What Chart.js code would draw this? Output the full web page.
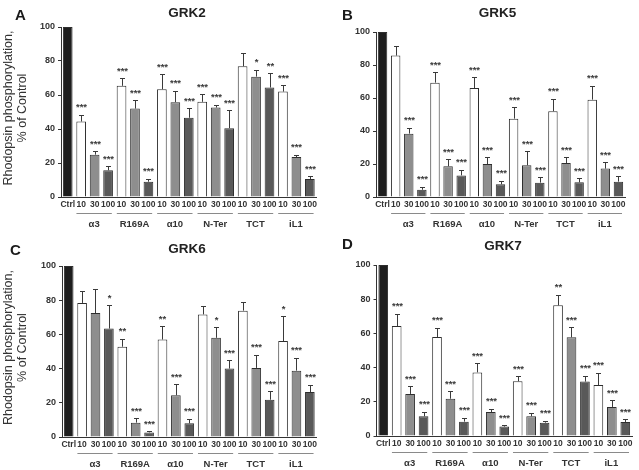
<!DOCTYPE html>
<html>
<head>
<meta charset="utf-8">
<script src="https://cdn.jsdelivr.net/npm/chart.js@4"></script>
<style>
  html,body{margin:0;padding:0;background:#fff;}
  body{width:639px;height:470px;position:relative;overflow:hidden;}
  .panel{position:absolute;}
  canvas{display:block;}
</style>
</head>
<body>
<div class="panel" style="left:0;top:0;width:320px;height:232px"><canvas id="cA" width="320" height="232"></canvas></div>
<div class="panel" style="left:320px;top:0;width:319px;height:232px"><canvas id="cB" width="319" height="232"></canvas></div>
<div class="panel" style="left:0;top:232px;width:320px;height:238px"><canvas id="cC" width="320" height="238"></canvas></div>
<div class="panel" style="left:320px;top:232px;width:319px;height:238px"><canvas id="cD" width="319" height="238"></canvas></div>
<script>
// ---------- DATA ----------
const categories = ['Ctrl', '10','30','100', '10','30','100', '10','30','100', '10','30','100', '10','30','100', '10','30','100'];
const groups = ['α3', 'R169A', 'α10', 'N-Ter', 'TCT', 'iL1'];
const yTicks = [0, 20, 40, 60, 80, 100];
const yLabel = ['Rhodopsin phosphorylation,', '% of Control'];

// GRK2 (panel A)
const grk2Values = [100, 44.4,24.9,15.7, 65.4,52,9, 63.4,55.8,46.6, 56,52.6,40.5, 76.9,70.8,64.4, 62,23.5,10.6];
const grk2ErrTop = [null, 48.3,26.8,18, 69.9,57,10.8, 72.2,62.4,52.3, 60.5,54.2,51, 84.5,74.8,72.8, 65.6,24.9,12.1];
const grk2Stars  = ['', '***','***','***', '***','***','***', '***','***','***', '***','***','***', '','*','**', '***','***','***'];

// GRK5 (panel B)
const grk5Values = [100, 85.7,38.4,4.4, 69.3,18.6,13.1, 66,20,7.7, 47.5,19.2,8.7, 52,20.6,8.9, 59,17.2,9.3];
const grk5ErrTop = [null, 91.3,42,6.3, 75.6,23,16.4, 72.5,24,10, 54.5,27.7,12, 59.4,24,11.3, 67.3,21,12.5];
const grk5Stars  = ['', '','***','***', '***','***','***', '***','***','***', '***','***','***', '***','***','***', '***','***','***'];

// GRK6 (panel C)
const grk6Values = [100, 78.4,72.5,63.4, 52.8,8.4,2.7, 57,24.4,8, 71.7,58,40, 73.9,40.4,21.8, 56.1,38.8,26.3];
const grk6ErrTop = [null, 85.4,86.7,77, 57.5,11.1,3.5, 64.7,30.8,10.7, 76.8,64.3,44.8, 79,48.1,26.7, 70.6,46.4,30.6];
const grk6Stars  = ['', '','','*', '**','***','***', '**','***','***', '','*','***', '','***','***', '*','***','***'];

// GRK7 (panel D)
const grk7Values = [100, 64.3,24.6,11.5, 57.9,21.8,8.4, 37.2,14,5.5, 32,11.5,7.8, 76.4,57.7,31.8, 29.8,17,8.2];
const grk7ErrTop = [null, 71.5,29,14.2, 63.4,26.3,10.7, 42.5,16,6.2, 34.9,13.6,8.8, 82.7,63.5,35.3, 37,20.9,9.9];
const grk7Stars  = ['', '***','***','***', '***','***','***', '***','***','***', '***','***','***', '**','***','***', '***','***','***'];

// ---------- STYLE ----------
const FONT = '"Liberation Sans", Arial, sans-serif';
const barFill = i => i === 0 ? '#1e1e1e' : ['#ffffff', '#8e8e8e', '#595959'][(i - 1) % 3];

const overlay = {
  id: 'overlay',
  afterDatasetsDraw(chart, args, o) {
    const ctx = chart.ctx, x = chart.scales.x, y = chart.scales.y;
    ctx.save();
    ctx.strokeStyle = '#3a3a3a';
    ctx.lineWidth = 1;
    ctx.fillStyle = '#3a3a3a';
    ctx.font = 'bold 9.5px ' + FONT;
    ctx.textAlign = 'center';
    ctx.textBaseline = 'alphabetic';
    o.errTop.forEach((e, i) => {
      const px = Math.round(x.getPixelForValue(i)) + 0.5;
      const yv = y.getPixelForValue(o.values[i]);
      if (e != null) {
        const ye = Math.round(y.getPixelForValue(e)) + 0.5;
        ctx.beginPath();
        ctx.moveTo(px, yv); ctx.lineTo(px, ye);
        ctx.moveTo(px - 2.5, ye); ctx.lineTo(px + 2.5, ye);
        ctx.stroke();
      }
      if (o.stars[i]) {
        const top = y.getPixelForValue(e != null ? e : o.values[i]);
        ctx.fillText(o.stars[i], px, top - 4.5);
      }
    });
    ctx.restore();
  },
  afterDraw(chart, args, o) {
    const ctx = chart.ctx, x = chart.scales.x, area = chart.chartArea;
    const step = x.getPixelForValue(1) - x.getPixelForValue(0);
    ctx.save();
    // group lines and labels
    groups.forEach((g, k) => {
      const a = x.getPixelForValue(1 + 3 * k) - step / 2 + 2;
      const b = x.getPixelForValue(3 + 3 * k) + step / 2 - 3;
      const ly = Math.round(area.bottom + 16) + 0.5;
      ctx.strokeStyle = '#8a8a8a';
      ctx.lineWidth = 1;
      ctx.beginPath(); ctx.moveTo(a, ly); ctx.lineTo(b, ly); ctx.stroke();
      ctx.fillStyle = '#333';
      ctx.font = 'bold 9.5px ' + FONT;
      ctx.textAlign = 'center';
      ctx.textBaseline = 'middle';
      ctx.fillText(g, (a + b) / 2, area.bottom + 27);
    });
    // letter and title
    ctx.fillStyle = '#1a1a1a';
    ctx.textAlign = 'center';
    ctx.textBaseline = 'middle';
    ctx.font = 'bold 15px ' + FONT;
    ctx.fillText(o.letter, o.letterPos[0], o.letterPos[1]);
    ctx.font = 'bold 13.5px ' + FONT;
    ctx.fillStyle = '#222';
    ctx.fillText(o.title, o.titlePos[0], o.titlePos[1]);
    // y label
    if (o.showYLabel) {
      ctx.font = '12.5px ' + FONT;
      ctx.fillStyle = '#333';
      const cy = (area.top + area.bottom) / 2 - 4;
      [[9, yLabel[0]], [23, yLabel[1]]].forEach(([lx, t]) => {
        ctx.save();
        ctx.translate(lx, cy);
        ctx.rotate(-Math.PI / 2);
        ctx.fillText(t, 0, 0);
        ctx.restore();
      });
    }
    ctx.restore();
  }
};

function makePanel(id, values, errTop, stars, title, letter, letterPos, titlePos, pad, yW, xH, showYLabel) {
  new Chart(document.getElementById(id), {
    type: 'bar',
    data: {
      labels: categories,
      datasets: [{
        data: values,
        backgroundColor: values.map((v, i) => barFill(i)),
        borderColor: '#2e2e2e',
        borderWidth: 1,
        barPercentage: 0.72,
        categoryPercentage: 1.0
      }]
    },
    options: {
      responsive: false,
      animation: false,
      devicePixelRatio: 1,
      layout: { padding: pad },
      plugins: {
        legend: { display: false },
        title: { display: false },
        tooltip: { enabled: false },
        overlay: { values, errTop, stars, title, letter, letterPos, titlePos, showYLabel }
      },
      scales: {
        x: {
          grid: { display: false, drawTicks: false },
          border: { display: true, color: '#333', width: 1 },
          ticks: { autoSkip: false, maxRotation: 0, minRotation: 0, padding: 3,
                   color: '#333', font: { family: FONT, size: 8.5, weight: 'bold' } },
          afterFit(s) { s.height = xH; }
        },
        y: {
          min: 0, max: 100,
          afterBuildTicks(s) { s.ticks = yTicks.map(v => ({ value: v })); },
          grid: { display: true, drawOnChartArea: false, drawTicks: true, tickLength: 3, color: '#333' },
          border: { display: true, color: '#333', width: 1 },
          ticks: { padding: 3, color: '#333', font: { family: FONT, size: 9, weight: 'bold' } },
          afterFit(s) { s.width = yW; }
        }
      }
    },
    plugins: [overlay]
  });
}

makePanel('cA', grk2Values, grk2ErrTop, grk2Stars, 'GRK2', 'A', [20.5, 15.5], [187, 13], {top: 27, right: 2, left: 0, bottom: 0}, 61, 35, true);
makePanel('cB', grk5Values, grk5ErrTop, grk5Stars, 'GRK5', 'B', [27.5, 15.5], [177.5, 13], {top: 32, right: 14, left: 0, bottom: 0}, 56, 35, false);
makePanel('cC', grk6Values, grk6ErrTop, grk6Stars, 'GRK6', 'C', [15.5, 19], [187, 17], {top: 34, right: 2, left: 0, bottom: 0}, 62, 33, true);
makePanel('cD', grk7Values, grk7ErrTop, grk7Stars, 'GRK7', 'D', [27.5, 12.5], [183, 14], {top: 33, right: 7, left: 0, bottom: 0}, 56.5, 34, false);
</script>
</body>
</html>
